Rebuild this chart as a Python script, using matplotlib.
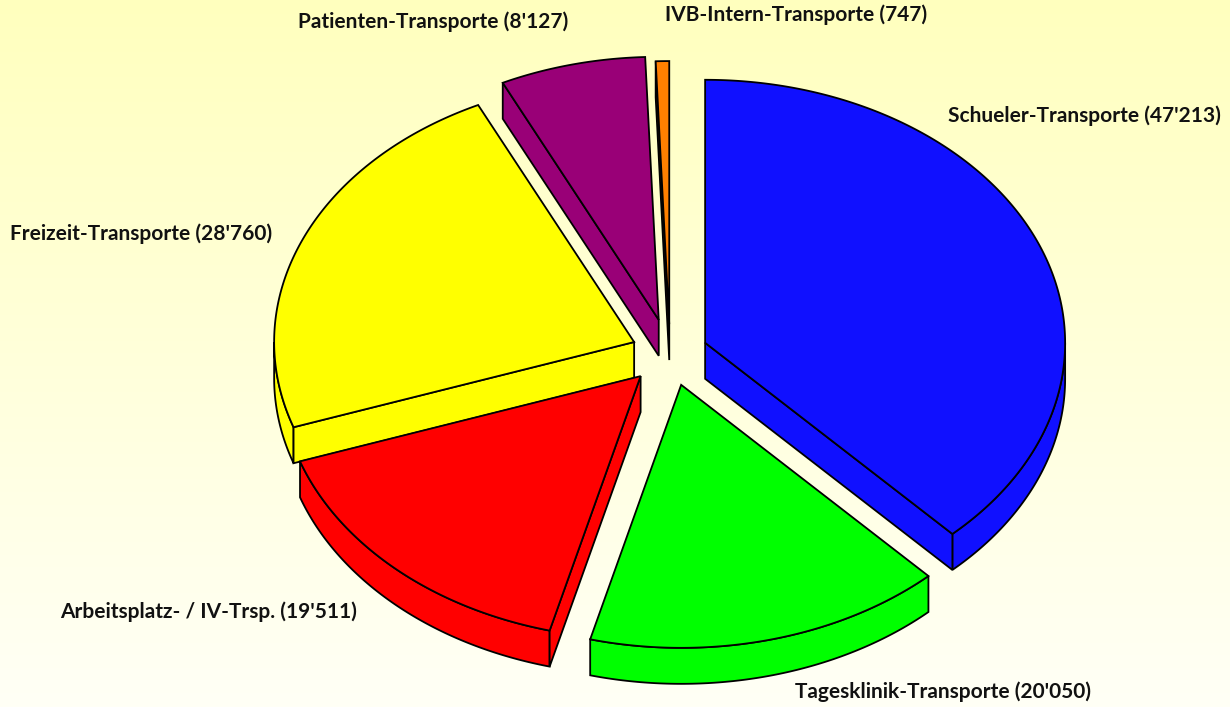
import matplotlib.pyplot as plt
import numpy as np
from matplotlib.patches import Polygon

# Data
labels = ["Schueler-Transporte", "Tagesklinik-Transporte", "Arbeitsplatz- / IV-Trsp.",
          "Freizeit-Transporte", "Patienten-Transporte", "IVB-Intern-Transporte"]
values = [47213, 20050, 19511, 28760, 8127, 747]
colors = ["#1010ff", "#00ff00", "#ff0000", "#ffff00", "#990077", "#ff8000"]
explode = [0.105, 0.125, 0.12, 0.108, 0.13, 0.11]

# label placement (pixel coords, left edge / vertical center)
label_pos = [(948, 116), (795, 692), (60, 612), (10, 234), (298, 22), (665, 15)]

# pie geometry in pixels
cx, cy = 670, 353
rx, ry = 360, 263
depth = 36

W, H = 1230, 707
fig = plt.figure(figsize=(W / 100, H / 100), dpi=100)
ax = fig.add_axes([0, 0, 1, 1])
ax.set_xlim(0, W)
ax.set_ylim(H, 0)
ax.axis('off')

# background gradient
grad = np.linspace(0, 1, 256)[:, None]
top = np.array([255, 255, 190]) / 255
bot = np.array([255, 255, 246]) / 255
img = top[None, None, :] * (1 - grad[..., None]) + bot[None, None, :] * grad[..., None]
ax.imshow(img, extent=[0, W, H, 0], aspect='auto', zorder=0)


def fmt(v):
    return f"{v:,}".replace(",", "'")


def pt(theta, r, h, ox, oy):
    t = np.radians(theta)
    return (cx + ox + r * rx * np.sin(t), cy + oy - r * ry * np.cos(t) + h * depth)


total = sum(values)
angles = np.cumsum([0] + [v / total * 360 for v in values])

slices = []
for i in range(len(values)):
    a1, a2 = angles[i], angles[i + 1]
    am = np.radians((a1 + a2) / 2)
    ox = explode[i] * rx * np.sin(am)
    oy = -explode[i] * ry * np.cos(am)
    slices.append((oy, i, a1, a2, ox))

# back to front
slices.sort()
z = 1
for oy, i, a1, a2, ox in slices:
    kw = dict(facecolor=colors[i], edgecolor='black', linewidth=1.3, joinstyle='miter')
    # outer wall, only the part facing the viewer
    lo, hi = max(a1, 90), min(a2, 270)
    if hi > lo:
        th = np.linspace(lo, hi, 100)
        topl = [pt(t, 1, 0, ox, oy) for t in th]
        botl = [pt(t, 1, 1, ox, oy) for t in th[::-1]]
        ax.add_patch(Polygon(topl + botl, closed=True, zorder=z, **kw))
        z += 1
    # radial walls
    for a, vis in ((a1, np.sin(np.radians(a1)) < -1e-6), (a2, np.sin(np.radians(a2)) > 1e-6)):
        if vis:
            poly = [pt(a, 0, 0, ox, oy), pt(a, 1, 0, ox, oy), pt(a, 1, 1, ox, oy), pt(a, 0, 1, ox, oy)]
            ax.add_patch(Polygon(poly, closed=True, zorder=z, **kw))
            z += 1
    # top face
    th = np.linspace(a1, a2, max(3, int((a2 - a1) * 2)))
    poly = [pt(0, 0, 0, ox, oy)] + [pt(t, 1, 0, ox, oy) for t in th]
    ax.add_patch(Polygon(poly, closed=True, zorder=z, **kw))
    z += 1

for i, (lx, ly) in enumerate(label_pos):
    ax.text(lx, ly, f"{labels[i]} ({fmt(values[i])})", ha='left', va='center',
            fontsize=15, fontweight='bold', family=['Lato', 'DejaVu Sans'],
            color='#111111', zorder=50)

fig.savefig("out.png", dpi=100)
